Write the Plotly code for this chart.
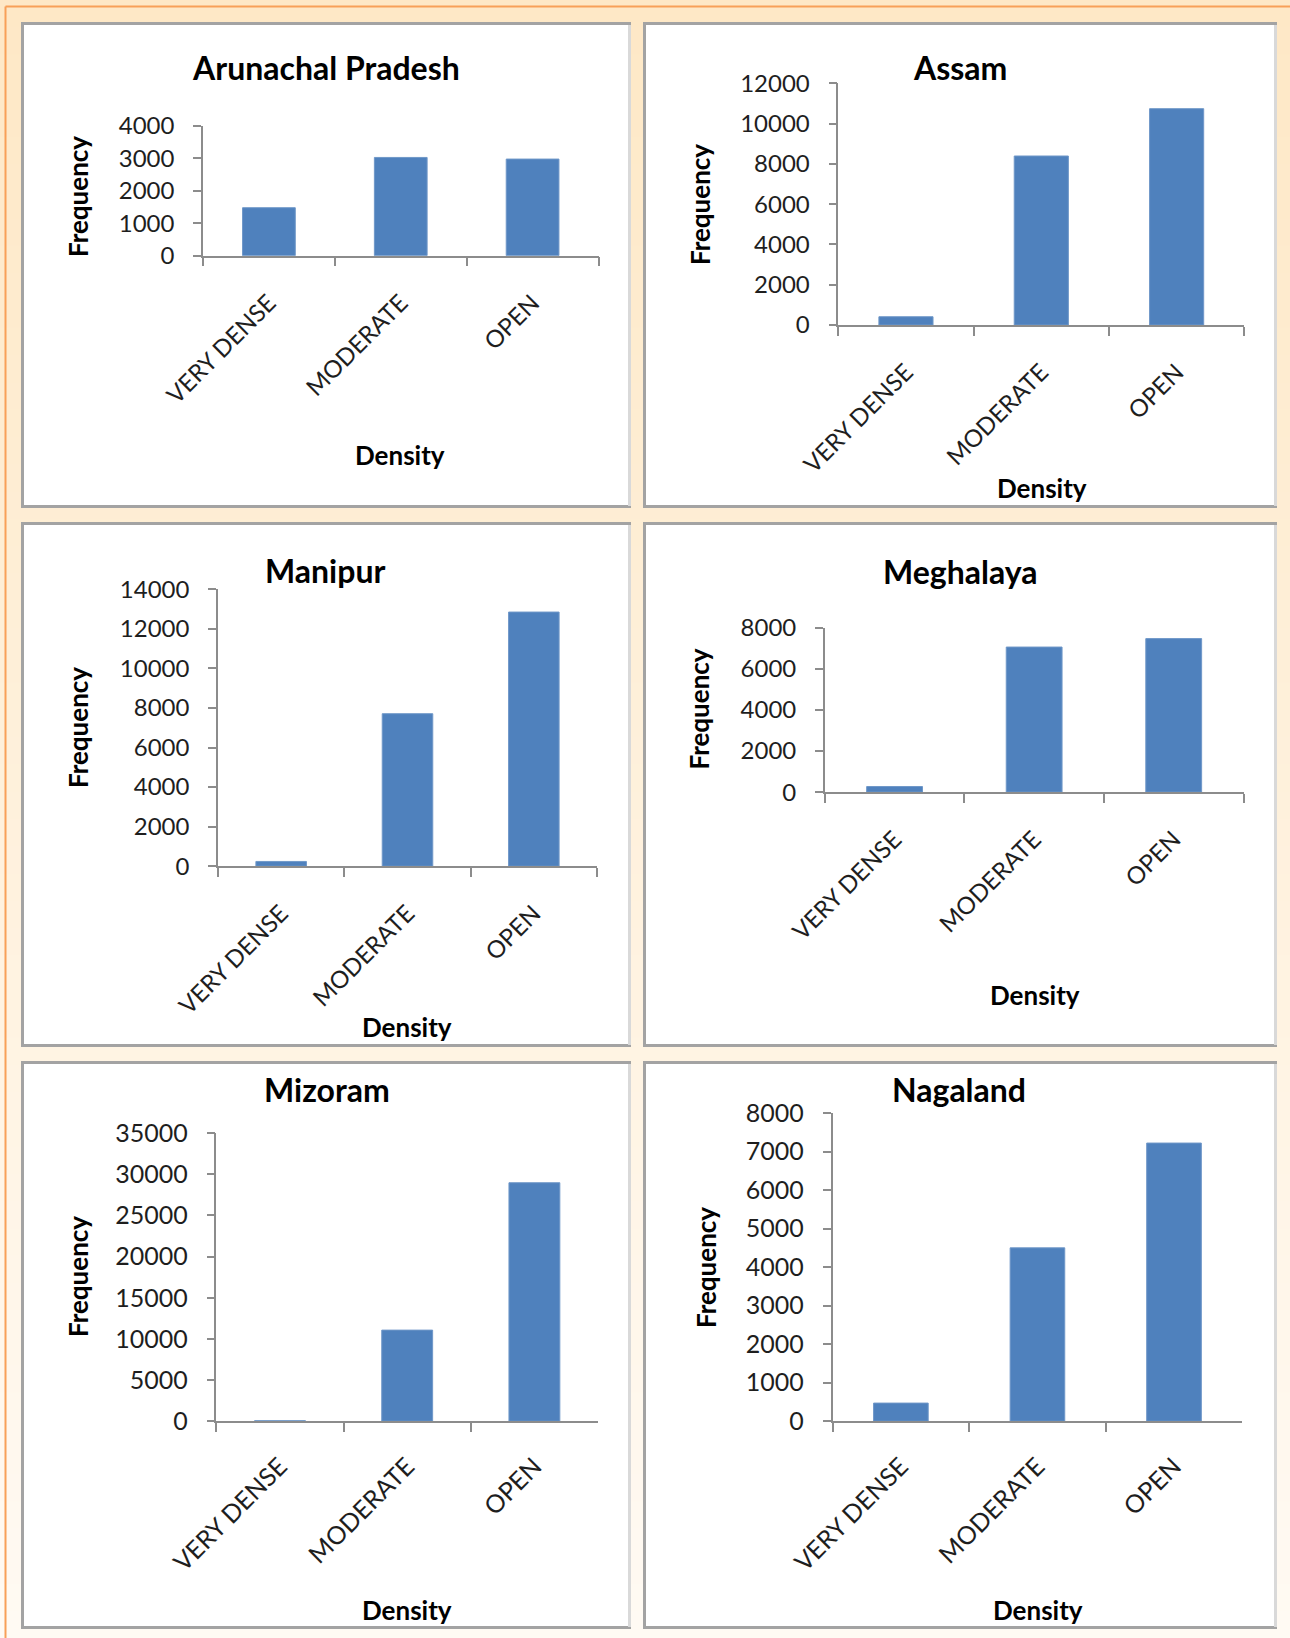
import plotly.graph_objects as go

# ---------------- data ----------------
categories = ["VERY DENSE", "MODERATE", "OPEN"]
states = ["Arunachal Pradesh", "Assam", "Manipur", "Meghalaya", "Mizoram", "Nagaland"]
arunachal = [1480, 3030, 2980]
assam = [410, 8390, 10740]
manipur = [240, 7710, 12850]
meghalaya = [270, 7050, 7460]
mizoram = [60, 11070, 28980]
nagaland = [470, 4500, 7220]
series = [arunachal, assam, manipur, meghalaya, mizoram, nagaland]
y_max = [4000, 12000, 14000, 8000, 35000, 8000]
y_dtick = [1000, 2000, 2000, 2000, 5000, 1000]
x_title = "Density"
y_title = "Frequency"

# ---------------- layout geometry (pixels) ----------------
W, H = 1290, 1638
frames = [(21, 22, 631, 508), (643, 22, 1277, 508),
          (21, 522, 631, 1047), (643, 522, 1277, 1047),
          (21, 1061, 631, 1629), (643, 1061, 1277, 1629)]
plots = [(203, 598.5, 126, 255.7), (838.3, 1244.3, 83.3, 325),
         (218, 597, 589.3, 866.2), (824.8, 1243.5, 627.5, 792.1),
         (216.4, 598, 1133.2, 1421.2), (832.6, 1242.3, 1113, 1421.2)]
title_pos = [(326, 68), (960, 68), (325, 570), (960, 571), (327, 1089), (958.5, 1089)]
dens_pos = [(400, 455), (1042, 488), (407, 1027), (1035, 995), (407, 1610), (1038, 1610)]
freq_pos = [(78, 197), (700, 205), (78, 728), (698.5, 709), (78, 1277), (706, 1267)]
x_standoff = [22, 22, 22, 22, 19, 19]

FONT = "Lato, 'Open Sans', sans-serif"
BAR = "#4F81BD"
AXIS = "#8C8C8C"


def px(x):
    return x / W


def py(y):
    return 1 - y / H


def lerp(c1, c2, t):
    return "#%02X%02X%02X" % tuple(round(a + (b - a) * t) for a, b in zip(c1, c2))


fig = go.Figure()
shapes = []
annotations = []

# background gradient stripes
top_c, bot_c = (0xFE, 0xE8, 0xC6), (0xFF, 0xFA, 0xF3)
n = 60
for i in range(n):
    y0 = H * i / n
    y1 = H * (i + 1) / n + 1
    shapes.append(dict(type="rect", xref="paper", yref="paper", layer="below",
                       x0=0, x1=1, y0=py(y1), y1=py(y0), line=dict(width=0),
                       fillcolor=lerp(top_c, bot_c, i / (n - 1))))
# orange border lines
shapes.append(dict(type="line", xref="paper", yref="paper", layer="below",
                   x0=px(5.5), x1=1, y0=py(6.5), y1=py(6.5), line=dict(color="#F8A058", width=2)))
shapes.append(dict(type="line", xref="paper", yref="paper", layer="below",
                   x0=px(5.5), x1=px(5.5), y0=py(6.5), y1=0, line=dict(color="#F8A058", width=2)))

for i in range(6):
    fx0, fy0, fx1, fy1 = frames[i]
    shapes.append(dict(type="rect", xref="paper", yref="paper", layer="below",
                       x0=px(fx0), x1=px(fx1), y0=py(fy1), y1=py(fy0),
                       line=dict(width=0), fillcolor="#A3A3A3"))
    shapes.append(dict(type="rect", xref="paper", yref="paper", layer="below",
                       x0=px(fx1 - 3), x1=px(fx1), y0=py(fy1 - 2), y1=py(fy0 + 3),
                       line=dict(width=0), fillcolor="#D9D9D9"))
    shapes.append(dict(type="rect", xref="paper", yref="paper", layer="below",
                       x0=px(fx0 + 3), x1=px(fx1 - 3), y0=py(fy1 - 3), y1=py(fy0 + 3),
                       line=dict(width=0), fillcolor="#FFFFFF"))

    xa = "x" if i == 0 else f"x{i+1}"
    ya = "y" if i == 0 else f"y{i+1}"
    fig.add_trace(go.Bar(x=categories, y=series[i], xaxis=xa, yaxis=ya,
                         marker=dict(color=BAR, line=dict(color="#6F97C8", width=1)),
                         showlegend=False, hoverinfo="x+y"))

    bx0, bx1, byt, byb = plots[i]
    big = i >= 4
    tick_font = dict(family=FONT, size=25 if big else 24, color="#1E1E1E")
    xkey = "xaxis" if i == 0 else f"xaxis{i+1}"
    ykey = "yaxis" if i == 0 else f"yaxis{i+1}"
    fig.update_layout(**{
        xkey: dict(domain=[px(bx0), px(bx1)], anchor=ya, type="category",
                   range=[-0.5, 2.5], showline=True, linecolor=AXIS, linewidth=1.5,
                   ticks="outside", tickson="boundaries", ticklen=9, tickcolor=AXIS,
                   tickwidth=1.5, tickangle=-45, tickfont=tick_font, automargin=False,
                   ticklabelstandoff=x_standoff[i], showgrid=False, zeroline=False,
                   fixedrange=True),
        ykey: dict(domain=[py(byb), py(byt)], anchor=xa, range=[0, y_max[i]],
                   dtick=y_dtick[i], tick0=0, tickformat="d", showline=True, linecolor=AXIS,
                   linewidth=1.5, automargin=False,
                   ticks="outside", ticklen=8, tickcolor=AXIS, tickwidth=1.5,
                   tickfont=tick_font, ticklabelstandoff=14, showgrid=False,
                   zeroline=False, fixedrange=True),
    })

    tx, ty = title_pos[i]
    annotations.append(dict(xref="paper", yref="paper", x=px(tx), y=py(ty), text=f"<b>{states[i]}</b>",
                            showarrow=False, xanchor="center", yanchor="middle",
                            font=dict(family=FONT, size=32, color="#000000")))
    dx, dy = dens_pos[i]
    annotations.append(dict(xref="paper", yref="paper", x=px(dx), y=py(dy), text=f"<b>{x_title}</b>",
                            showarrow=False, xanchor="center", yanchor="middle",
                            font=dict(family=FONT, size=26, color="#000000")))
    qx, qy = freq_pos[i]
    annotations.append(dict(xref="paper", yref="paper", x=px(qx), y=py(qy), text=f"<b>{y_title}</b>",
                            showarrow=False, xanchor="center", yanchor="middle", textangle=-90,
                            font=dict(family=FONT, size=26, color="#000000")))

fig.update_layout(width=W, height=H, margin=dict(l=0, r=0, t=0, b=0, pad=0, autoexpand=False),
                  paper_bgcolor="#FEE8C6", plot_bgcolor="rgba(0,0,0,0)",
                  bargap=0.6, shapes=shapes, annotations=annotations,
                  font=dict(family=FONT))

fig.write_html("out.html")
